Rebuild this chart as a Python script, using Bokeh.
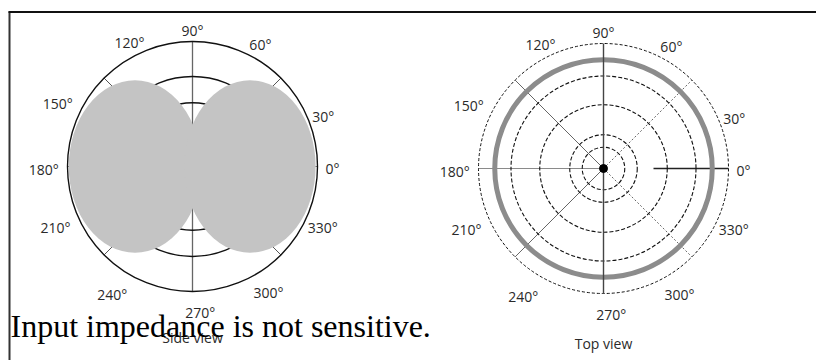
import numpy as np
from bokeh.plotting import figure
from bokeh.models import Range1d, Label
from bokeh.core.properties import value
from bokeh.embed import file_html
from bokeh.resources import INLINE

# ---------------- data ----------------
tick_angles = [0, 30, 60, 90, 120, 150, 180, 210, 240, 270, 300, 330]
tick_labels = ["0°", "30°", "60°", "90°", "120°", "150°", "180°", "210°", "240°", "270°", "300°", "330°"]

# side view: grid rings and the two (figure-eight) lobes
side_rings = [0.51, 0.72, 1.0]
side_lobe_center = [-0.46, 0.46]
side_lobe_width = [1.06, 1.05]
side_lobe_height = [1.38, 1.38]

# top view: dashed grid rings and the omnidirectional response ring
top_rings = [0.17, 0.27, 0.51, 0.74, 1.0]
top_response = [0.87]

titles = ["Side view", "Top view"]
caption = "Input impedance is not sensitive."

# ---------------- layout ----------------
UNIT = 125.0                      # pixels per unit radius
W, H = 816, 360
X0 = -192 / UNIT
X1 = X0 + W / UNIT
Y0 = -194 / UNIT
Y1 = Y0 + H / UNIT
CL = (0.0, 0.0)                   # side view centre
CR = (411 / UNIT, -2 / UNIT)      # top view centre
# placement of each tick label (direction in degrees, distance in units)
LABEL_DIR = [-1, 21, 61, 90, 117, 155, 181, 204, 238, 273, 301, 335]
LABEL_R = [1.12, 1.12, 1.12, 1.09, 1.11, 1.19, 1.19, 1.20, 1.21, 1.17, 1.18, 1.15]
TITLE_DY = [-1.368, -1.40]

p = figure(frame_width=W, frame_height=H, x_range=Range1d(X0, X1), y_range=Range1d(Y0, Y1),
           output_backend="svg", toolbar_location=None, title=None,
           min_border=0, min_border_left=0, min_border_right=0,
           min_border_top=0, min_border_bottom=0,
           x_axis_location=None, y_axis_location=None)
p.grid.visible = False
p.outline_line_color = None
p.background_fill_color = "white"
p.border_fill_color = "white"


def seg(c, ang_deg, r0, r1):
    a = np.radians(np.asarray(ang_deg, dtype=float))
    return dict(x0=c[0] + r0 * np.cos(a), y0=c[1] + r0 * np.sin(a),
                x1=c[0] + r1 * np.cos(a), y1=c[1] + r1 * np.sin(a))


# ---------- side view ----------
s = seg(CL, [0], -1.0, 1.0)
p.segment(**s, line_color="#777777", line_width=1)
s = seg(CL, [90], -1.0, 1.0)
p.segment(**s, line_color="#666666", line_width=1.3)
s = seg(CL, [45, 135, 225, 315], 0.72, 1.0)
p.segment(**s, line_color="#555555", line_width=1)
p.circle(x=[CL[0]] * len(side_rings), y=[CL[1]] * len(side_rings), radius=side_rings,
         fill_color=None, line_color="#111111", line_width=1.4)
p.ellipse(x=[CL[0] + c for c in side_lobe_center], y=[CL[1]] * 2,
          width=side_lobe_width, height=side_lobe_height,
          fill_color="#c4c4c4", line_color=None)

# ---------- top view ----------
s = seg(CR, [180], 0.0, 1.0)
p.segment(**s, line_color="#8a8a8a", line_width=1)
s = seg(CR, [0], 0.4, 1.0)
p.segment(**s, line_color="#222222", line_width=1.5)
s = seg(CR, [135, 225], 0.0, 1.0)
p.segment(**s, line_color="#555555", line_width=0.9)
s = seg(CR, [45, 315], 0.0, 1.0)
p.segment(**s, line_color="#555555", line_width=0.9, line_dash="2 2")
p.circle(x=[CR[0]] * (len(top_rings) - 1), y=[CR[1]] * (len(top_rings) - 1), radius=top_rings[:-1],
         fill_color=None, line_color="#111111", line_width=1.1, line_dash="4 2")
p.circle(x=[CR[0]], y=[CR[1]], radius=[top_rings[-1]],
         fill_color=None, line_color="#111111", line_width=1, line_dash="3 2")
p.circle(x=[CR[0]], y=[CR[1]], radius=top_response,
         fill_color=None, line_color="#8c8c8c", line_width=5)
s = seg(CR, [90], -1.0, 1.0)
p.segment(**s, line_color="#444444", line_width=1.4)
p.scatter(x=[CR[0]], y=[CR[1]], size=8, marker="circle", fill_color="black", line_color="black")

# ---------- labels ----------
la = np.radians(LABEL_DIR)
lr = np.asarray(LABEL_R)
for c, dy, t in zip([CL, CR], TITLE_DY, titles):
    p.text(x=list(c[0] + lr * np.cos(la)), y=list(c[1] + lr * np.sin(la)),
           text=tick_labels, text_align="center", text_baseline="middle",
           text_font=value("Open Sans"), text_font_size="14px", text_color="#2a2a2a")
    p.text(x=[c[0]], y=[c[1] + dy], text=[t], text_align="center", text_baseline="middle",
           text_font=value("Open Sans"), text_font_size="14px", text_color="#2a2a2a")

# ---------- frame of the picture (left and top edges) ----------
p.segment(x0=[X0 + 9 / UNIT], y0=[Y0], x1=[X0 + 9 / UNIT], y1=[Y1 - 11 / UNIT],
          line_color="#333333", line_width=2)
p.segment(x0=[X0 + 8 / UNIT], y0=[Y1 - 11.5 / UNIT], x1=[X1], y1=[Y1 - 11.5 / UNIT],
          line_color="#111111", line_width=2)

# ---------- overlaid sentence ----------
p.add_layout(Label(x=X0 + 10 / UNIT, y=Y1 - 325 / UNIT, text=caption,
                   text_font="Liberation Serif", text_font_size="32px",
                   text_color="black", text_baseline="alphabetic", text_align="left"))

open("out.html", "w").write(file_html(p, INLINE))
